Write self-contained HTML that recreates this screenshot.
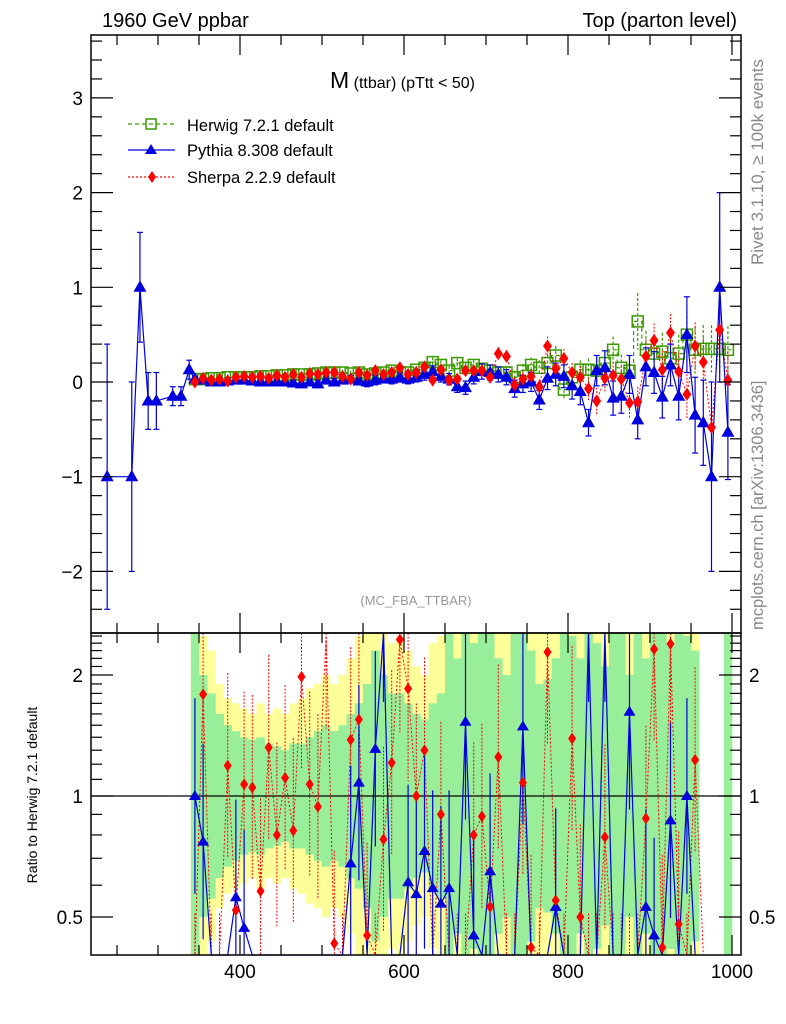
<!DOCTYPE html>
<html><head><meta charset="utf-8"><style>
html,body{margin:0;padding:0;background:#fff;overflow:hidden;width:786px;height:1024px;}
svg{display:block;font-family:"Liberation Sans",sans-serif;}
</style></head><body>
<svg id="c" width="786" height="1024" viewBox="0 0 786 1024">
<text x="102" y="27" font-size="20">1960 GeV ppbar</text>
<text x="737" y="27" font-size="20" text-anchor="end">Top (parton level)</text>
<text x="330" y="88" font-size="23">M<tspan font-size="16"> (ttbar) (pTtt &lt; 50)</tspan></text>
<text x="416" y="605" font-size="13" fill="#999" text-anchor="middle">(MC_FBA_TTBAR)</text>
<text transform="translate(763,265) rotate(-90)" font-size="17" fill="#888">Rivet 3.1.10, ≥ 100k events</text>
<text transform="translate(763,630) rotate(-90)" font-size="16.5" fill="#888">mcplots.cern.ch [arXiv:1306.3436]</text>
<text transform="translate(37,795) rotate(-90)" font-size="14" text-anchor="middle">Ratio to Herwig 7.2.1 default</text>
<g>
 <g><line x1="128" y1="124" x2="175" y2="124" stroke="#3a9a00" stroke-width="1.3" stroke-dasharray="4,3"/><rect x="146" y="119" width="10" height="10" fill="none" stroke="#3a9a00" stroke-width="1.5"/><text x="187" y="131" font-size="16.5">Herwig 7.2.1 default</text></g>
 <g><line x1="128" y1="150" x2="175" y2="150" stroke="#0000dd" stroke-width="1.3"/><polygon points="151,144 145,154 157,154" fill="#0000dd"/><text x="187" y="156" font-size="16.5">Pythia 8.308 default</text></g>
 <g><line x1="128" y1="177" x2="175" y2="177" stroke="#ff0000" stroke-width="1.3" stroke-dasharray="2,2"/><polygon points="152,171 156,177 152,183 148,177" fill="#ff0000"/><text x="187" y="183" font-size="16.5">Sherpa 2.2.9 default</text></g>
</g>
<g id="bands"></g><g id="marks"></g><g id="axes"></g>
</svg>
<script>
const centers=[345,355,365,375,385,395,405,415,425,435,445,455,465,475,485,495,505,515,525,535,545,555,565,575,585,595,605,615,625,635,645,655,665,675,685,695,705,715,725,735,745,755,765,775,785,795,805,815,825,835,845,855,865,875,885,895,905,915,925,935,945,955,965,975,985,995];
const herwig=[0.03,0.03,0.04,0.04,0.05,0.05,0.05,0.05,0.06,0.06,0.07,0.07,0.08,0.08,0.08,0.09,0.1,0.1,0.1,0.09,0.1,0.08,0.09,0.1,0.12,0.1,0.1,0.13,0.15,0.21,0.18,0.12,0.2,0.15,0.18,0.14,0.12,0.1,0.1,0.05,0.12,0.18,0.15,0.2,0.28,-0.08,0.05,0.13,0.13,0.12,0.2,0.34,0.15,0.12,0.64,0.34,0.3,0.32,0.25,0.3,0.5,0.34,0.35,0.35,0.35,0.34];
const herwigErr=[0.02,0.02,0.02,0.02,0.02,0.02,0.02,0.02,0.02,0.02,0.02,0.02,0.02,0.02,0.02,0.02,0.03,0.03,0.03,0.03,0.03,0.03,0.03,0.03,0.03,0.04,0.04,0.04,0.04,0.05,0.05,0.05,0.05,0.05,0.05,0.06,0.06,0.06,0.07,0.07,0.07,0.08,0.08,0.08,0.1,0.1,0.1,0.1,0.12,0.12,0.12,0.14,0.14,0.15,0.3,0.2,0.2,0.2,0.2,0.2,0.25,0.25,0.25,0.25,0.25,0.25];
const pyCenters=[238,268,278,288,298,318,328,338,345,355,365,375,385,395,405,415,425,435,445,455,465,475,485,495,505,515,525,535,545,555,565,575,585,595,605,615,625,635,645,655,665,675,685,695,705,715,725,735,745,755,765,775,785,795,805,815,825,835,845,855,865,875,885,895,905,915,925,935,945,955,965,975,985,995];
const pythia=[-1,-1,1.0,-0.2,-0.2,-0.15,-0.15,0.13,0.03,0.02,0.0,0.0,0.01,0.02,0.02,0.01,0.0,0.0,0.0,0.0,-0.01,-0.02,0.0,-0.02,0.02,0.0,0.02,0.03,0.01,0.0,0.02,0.04,0.03,0.05,0.03,0.05,0.08,0.11,0.06,0.03,-0.05,-0.06,0.05,0.11,0.1,0.08,0.05,-0.07,-0.02,0.0,-0.19,0.04,0.08,0.06,-0.04,-0.1,-0.43,0.12,0.15,-0.17,-0.15,0.08,-0.4,0.16,0.1,-0.16,0.18,-0.15,0.5,-0.35,-0.43,-1.0,1.0,-0.53];
const pythiaErr=[1.4,1.0,0.58,0.3,0.3,0.1,0.1,0.1,0.03,0.03,0.03,0.03,0.03,0.03,0.03,0.03,0.03,0.03,0.03,0.03,0.03,0.03,0.04,0.04,0.04,0.04,0.04,0.04,0.04,0.05,0.05,0.05,0.05,0.05,0.05,0.05,0.06,0.06,0.06,0.06,0.06,0.07,0.07,0.08,0.08,0.08,0.08,0.09,0.09,0.1,0.1,0.12,0.12,0.12,0.14,0.14,0.14,0.16,0.18,0.18,0.18,0.2,0.2,0.2,0.22,0.22,0.22,0.25,0.4,0.4,0.45,1.0,1.0,0.5];
const sherpa=[0.0,0.04,0.02,0.03,0.01,0.05,0.06,0.05,0.06,0.04,0.07,0.05,0.08,0.05,0.09,0.08,0.1,0.1,0.06,0.03,0.1,0.07,0.12,0.08,0.1,0.15,0.08,0.1,0.16,0.02,0.13,0.02,0.03,0.12,0.12,0.12,0.05,0.3,0.27,-0.03,0.03,0.06,-0.05,0.38,0.14,0.25,0.1,0.05,-0.07,-0.2,0.04,0.07,0.03,-0.22,-0.21,0.27,0.44,0.13,0.52,0.11,-0.13,0.38,0.21,-0.48,0.55,0.02];
const sherpaErr=[0.02,0.02,0.02,0.02,0.02,0.02,0.02,0.02,0.02,0.03,0.03,0.03,0.03,0.03,0.03,0.03,0.03,0.03,0.03,0.04,0.04,0.04,0.04,0.04,0.04,0.05,0.05,0.05,0.05,0.05,0.05,0.06,0.06,0.06,0.06,0.07,0.07,0.07,0.07,0.08,0.08,0.08,0.08,0.1,0.1,0.1,0.1,0.12,0.12,0.14,0.14,0.14,0.14,0.16,0.16,0.18,0.18,0.2,0.2,0.2,0.25,0.25,0.25,0.3,0.3,0.3];
const ratioPythia=[1.0,0.77,0.1,0.1,0.1,0.56,0.47,0.1,0.1,0.1,0.1,0.1,0.1,0.1,0.1,0.1,0.1,0.1,0.1,0.68,1.08,0.1,1.31,3,0.1,0.1,0.61,0.57,0.73,0.59,0.54,0.59,0.1,1.53,0.45,0.1,0.65,0.1,0.1,0.1,1.49,0.1,0.1,0.1,0.53,0.1,0.1,0.1,3,0.1,3,0.1,0.1,1.62,0.1,0.53,0.45,0.1,0.87,0.1,1.0,0.1,null,null,null,null];
const ratioSherpa=[0.3,1.79,0.3,0.3,1.19,0.52,1.07,1.05,0.58,1.32,0.8,1.11,0.82,1.98,1.07,0.94,2.5,0.43,0.3,1.38,1.55,0.45,0.3,0.78,1.21,2.45,1.85,1.0,1.3,0.3,0.9,0.3,0.3,0.3,0.8,0.89,0.53,1.25,0.3,0.3,1.08,0.42,0.3,2.28,0.55,0.3,1.39,0.5,0.3,0.3,0.79,0.3,0.3,0.3,0.3,0.88,2.32,0.42,2.39,0.48,0.3,1.23,0.2,0.2,0.2,0.2];
const bandGreen=[2.6,2.0,1.8,1.6,1.5,1.45,1.4,1.38,1.4,1.35,1.33,1.3,1.35,1.35,1.4,1.45,1.5,1.45,1.5,1.6,1.7,1.9,2.3,2.0,1.8,1.8,1.7,1.6,1.55,1.7,1.8,3,2.2,3,2.4,2.6,3,2.2,2.0,2.6,3,2.3,1.9,1.95,2.2,3,2.5,2.2,3,2.4,2.1,2.6,3,2.0,3,2.2,2.7,3,2.4,3,2.5,2.3,null,null,null,3];
const bandYellow=[3,2.5,2.3,1.9,1.75,1.7,1.65,1.6,1.7,1.6,1.65,1.6,1.7,1.75,1.85,1.9,2.0,1.9,2.0,2.2,2.5,2.6,3,2.7,2.4,2.5,2.3,2.1,2.0,2.4,2.5,3,3,3,3,3,3,3,3,3,3,3,3,3,3,3,3,3,3,3,3,3,3,3,3,3,3,3,3,3,3,3,null,null,null,3];
const ratioErrFactor=1.7;
const mainTicks=[-2,-1,0,1,2,3];
const ratioTicks=[0.5,1,2];
const xTicks=[400,600,800,1000];

const NS="http://www.w3.org/2000/svg";
const L=91,R=741,T=35,MB=633,RB=955;
const cl=(p,a,b)=>Math.max(a,Math.min(b,p));
const X=v=>240+(v-400)*0.82;
const Y=v=>cl(382-94.7*v,T,MB);
const RY=r=>cl(796-402*Math.log10(r),MB,RB);
const RYraw=r=>796-402*Math.log10(r);
function mk(tag,at,parent){const e=document.createElementNS(NS,tag);for(const k in at)e.setAttribute(k,at[k]);parent.appendChild(e);return e;}
const svg=document.getElementById('c');
const bands=document.getElementById('bands'),marks=document.getElementById('marks'),axes=document.getElementById('axes');
const rm=mk('g',{},svg);


const hw=4.1;
centers.forEach((c,i)=>{
 if(bandYellow[i]!=null){const u=bandYellow[i];const r=mk('rect',{x:X(c)-hw,y:RY(u),width:2*hw+0.3,height:RY(1/u)-RY(u),fill:'#ffff99'},bands);
 
 }
});
centers.forEach((c,i)=>{
 if(bandGreen[i]!=null){const u=bandGreen[i];const r=mk('rect',{x:X(c)-hw,y:RY(u),width:2*hw+0.3,height:RY(1/u)-RY(u),fill:'#99ee99'},bands);
 
 }
});
mk('line',{x1:L,y1:RY(1),x2:R,y2:RY(1),stroke:'#000','stroke-width':1.2},rm);
let pts=[];
centers.forEach((c,i)=>{const v=ratioSherpa[i];if(v==null)return;const x=X(c);
 const e=mk('line',{x1:x,y1:RY(v*ratioErrFactor),x2:x,y2:RY(v/ratioErrFactor),stroke:'#ff0000','stroke-width':1,'stroke-dasharray':'2,1.5'},rm);
 
 
 pts.push(x+','+RY(v));});
let pl=mk('polyline',{points:pts.join(' '),fill:'none',stroke:'#ff0000','stroke-width':1,'stroke-dasharray':'2,2'},rm);


pts=[];
centers.forEach((c,i)=>{const v=ratioPythia[i];if(v==null)return;const x=X(c);
 const e=mk('line',{x1:x,y1:RY(v*1.75),x2:x,y2:RY(v/1.75),stroke:'#0000dd','stroke-width':1.2},rm);
 
 
 pts.push(x+','+RY(v));});
pl=mk('polyline',{points:pts.join(' '),fill:'none',stroke:'#0000dd','stroke-width':1.2},rm);


centers.forEach((c,i)=>{const v=ratioPythia[i];if(v==null)return;const y=RYraw(v);if(y<MB+6||y>RB-4)return;const x=X(c);
 const m=mk('polygon',{points:`${x},${y-6} ${x-6},${y+4} ${x+6},${y+4}`,fill:'#0000dd'},rm);
 
 });
centers.forEach((c,i)=>{const v=ratioSherpa[i];if(v==null)return;const y=RYraw(v);if(y<MB+4||y>RB-6)return;const x=X(c);
 const m=mk('polygon',{points:`${x},${y-6} ${x+4},${y} ${x},${y+6} ${x-4},${y}`,fill:'#ff0000'},rm);
 
 });
pts=[];
centers.forEach((c,i)=>{const v=herwig[i],x=X(c);pts.push((x-hw)+','+Y(v)+' '+(x+hw)+','+Y(v));
 const e=mk('line',{x1:x,y1:Y(v+herwigErr[i]),x2:x,y2:Y(v-herwigErr[i]),stroke:'#3a9a00','stroke-width':1.2,'stroke-dasharray':'3,2'},marks);
 
 });
pl=mk('polyline',{points:pts.join(' '),fill:'none',stroke:'#3a9a00','stroke-width':1.2,'stroke-dasharray':'4,3'},marks);


centers.forEach((c,i)=>{const x=X(c),y=Y(herwig[i]);
 const m=mk('rect',{x:x-5.5,y:y-5.5,width:11,height:11,fill:'none',stroke:'#3a9a00','stroke-width':1.5},marks);
 
 });
pts=[];
centers.forEach((c,i)=>{const v=sherpa[i],x=X(c);pts.push(x+','+Y(v));
 const e=mk('line',{x1:x,y1:Y(v+sherpaErr[i]),x2:x,y2:Y(v-sherpaErr[i]),stroke:'#ff0000','stroke-width':1,'stroke-dasharray':'2,1.5'},marks);
 
 });
pl=mk('polyline',{points:pts.join(' '),fill:'none',stroke:'#ff0000','stroke-width':1,'stroke-dasharray':'2,2'},marks);


pts=[];
pyCenters.forEach((c,i)=>{const v=pythia[i],x=X(c);pts.push(x+','+Y(v));
 const e=mk('line',{x1:x,y1:Y(v+pythiaErr[i]),x2:x,y2:Y(v-pythiaErr[i]),stroke:'#0000dd','stroke-width':1.2},marks);
 
 
 mk('line',{x1:x-3,y1:Y(v+pythiaErr[i]),x2:x+3,y2:Y(v+pythiaErr[i]),stroke:'#0000dd','stroke-width':1.2},marks);
 mk('line',{x1:x-3,y1:Y(v-pythiaErr[i]),x2:x+3,y2:Y(v-pythiaErr[i]),stroke:'#0000dd','stroke-width':1.2},marks);});
pl=mk('polyline',{points:pts.join(' '),fill:'none',stroke:'#0000dd','stroke-width':1.2},marks);


pyCenters.forEach((c,i)=>{const x=X(c),y=Y(pythia[i]);
 const m=mk('polygon',{points:`${x},${y-7} ${x-6.5},${y+4.5} ${x+6.5},${y+4.5}`,fill:'#0000dd'},marks);
 
 });
centers.forEach((c,i)=>{const x=X(c),y=Y(sherpa[i]);
 const m=mk('polygon',{points:`${x},${y-6.5} ${x+4.5},${y} ${x},${y+6.5} ${x-4.5},${y}`,fill:'#ff0000'},marks);
 
 });
svg.appendChild(axes);
const f1=mk('rect',{x:L,y:T,width:R-L,height:MB-T,fill:'none',stroke:'#000','stroke-width':1.5},axes);


const f2=mk('rect',{x:L,y:MB,width:R-L,height:RB-MB,fill:'none',stroke:'#000','stroke-width':1.5},axes);


function tk(x1,y1,x2,y2){mk('line',{x1,y1,x2,y2,stroke:'#000','stroke-width':1.2},axes);}
for(let k=-25;k<=36;k++){const v=k/10;if(k%2)continue;const y=382-94.7*v;if(y<T||y>MB)continue;const maj=k%10==0;const l=maj?22:11;tk(L,y,L+l,y);tk(R,y,R-l,y);}
mainTicks.forEach(v=>{const t=mk('text',{x:L-8,y:382-94.7*v+7,'font-size':19,'text-anchor':'end'},axes);t.textContent=(v<0?'\u2212'+(-v):String(v));
 
 });
for(let k=4;k<=25;k++){const r=k/10;const y=RYraw(r);if(y<MB||y>RB)continue;const maj=(k==5||k==10||k==20);const l=maj?22:11;tk(L,y,L+l,y);tk(R,y,R-l,y);}
ratioTicks.forEach(v=>{const y=RYraw(v)+7;
 let t=mk('text',{x:L-8,y,'font-size':19,'text-anchor':'end'},axes);t.textContent=String(v);
 
 
 t=mk('text',{x:R+8,y,'font-size':19},axes);t.textContent=String(v);
 
 });
for(let v=250;v<=1000;v+=50){const x=X(v);if(x<L||x>R)continue;const maj=v%200==0;const l=maj?20:10;tk(x,T,x,T+l);tk(x,MB,x,MB-l);tk(x,MB,x,MB+l);tk(x,RB,x,RB-l);}
xTicks.forEach(v=>{const t=mk('text',{x:X(v),y:978,'font-size':19,'text-anchor':'middle'},axes);t.textContent=String(v);
 
 });
</script>
</body></html>
